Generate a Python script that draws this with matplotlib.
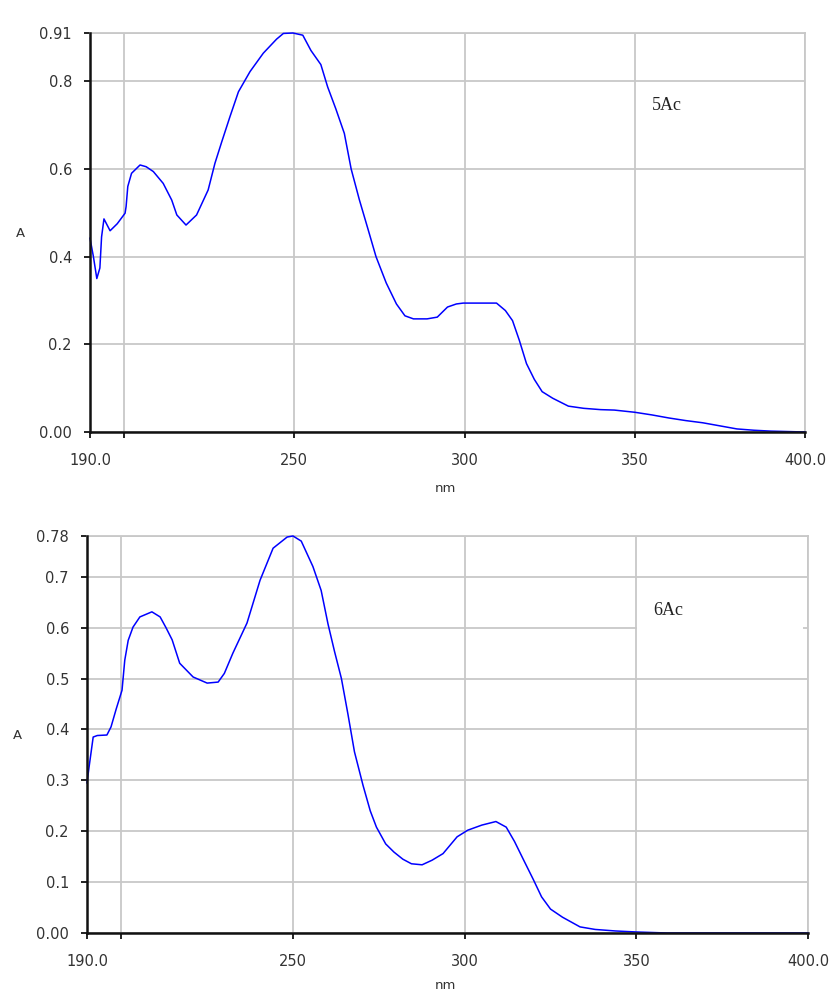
import matplotlib
matplotlib.use("Agg")
import matplotlib.pyplot as plt
from matplotlib.patches import Rectangle

# ---- data: 5Ac (top panel) ----
x5 = [190, 191, 192, 192.9, 193.4, 194.1, 195.9, 198, 200.3, 200.6, 201.1, 202.2, 204.7, 206.5,
      208.6, 211.5, 214, 215.5, 218.2, 221.3, 224.7, 226.7, 228.7, 231.1, 233.6, 237, 240.9,
      244.8, 246.8, 249.6, 252.5, 254.9, 257.8, 259.8, 262.2, 264.7, 266.7, 269.1, 271.6, 274,
      277, 280, 282.5, 285, 289, 292, 295, 297.6, 299.6, 305, 309.4, 312, 314.1, 316.1, 318.2,
      320.5, 322.8, 325.9, 330.5, 335, 340, 344, 350, 355, 360, 365, 370, 375, 380, 385, 390,
      395, 400]
a5 = [0.442, 0.40, 0.35, 0.374, 0.445, 0.486, 0.459, 0.475, 0.499, 0.514, 0.56, 0.59, 0.609,
      0.605, 0.594, 0.567, 0.529, 0.495, 0.472, 0.495, 0.552, 0.613, 0.662, 0.719, 0.776, 0.822,
      0.864, 0.896, 0.909, 0.91, 0.905, 0.87, 0.838, 0.787, 0.737, 0.681, 0.60, 0.53, 0.464,
      0.40, 0.34, 0.292, 0.265, 0.258, 0.258, 0.262, 0.285, 0.292, 0.294, 0.294, 0.294, 0.277,
      0.254, 0.209, 0.156, 0.12, 0.092, 0.077, 0.059, 0.054, 0.051, 0.05, 0.045, 0.039, 0.032,
      0.026, 0.021, 0.014, 0.007, 0.004, 0.002, 0.001, 0.0]

# ---- data: 6Ac (bottom panel) ----
x6 = [190, 190.6, 191.8, 193, 195.8, 197, 198.5, 200.2, 201, 202, 203.4, 205.4, 208.9, 211.3,
      213, 214.8, 217, 220.9, 225, 228.2, 230, 232.5, 236.6, 240.4, 244.2, 248.3, 250, 252.4,
      255.8, 258.2, 260.2, 262.1, 264.1, 266, 267.9, 270.4, 272.5, 274.3, 277, 279.4, 282,
      284.5, 287.6, 290.5, 293.7, 297.8, 300.9, 305, 309.1, 312.1, 314.5, 317.2, 320, 322.4,
      325, 328.5, 333.6, 338, 343.9, 350, 359, 370, 380, 390, 400]
a6 = [0.295, 0.326, 0.385, 0.388, 0.389, 0.405, 0.44, 0.477, 0.536, 0.575, 0.601, 0.621, 0.631,
      0.621, 0.60, 0.576, 0.53, 0.503, 0.491, 0.493, 0.51, 0.55, 0.609, 0.693, 0.756, 0.778,
      0.78, 0.77, 0.72, 0.673, 0.607, 0.553, 0.5, 0.43, 0.356, 0.29, 0.24, 0.208, 0.175,
      0.159, 0.145, 0.136, 0.134, 0.143, 0.156, 0.189, 0.202, 0.212, 0.219, 0.208, 0.18,
      0.143, 0.105, 0.071, 0.047, 0.031, 0.012, 0.007, 0.004, 0.002, 0.0, 0.0, 0.0, 0.0, 0.0]

xticks = [190, 200, 250, 300, 350, 400]
xticklabels = ["190.0", "", "250", "300", "350", "400.0"]
yticks5 = [0.0, 0.2, 0.4, 0.6, 0.8, 0.91]
yticklabels5 = ["0.00", "0.2", "0.4", "0.6", "0.8", "0.91"]
yticks6 = [0.0, 0.1, 0.2, 0.3, 0.4, 0.5, 0.6, 0.7, 0.78]
yticklabels6 = ["0.00", "0.1", "0.2", "0.3", "0.4", "0.5", "0.6", "0.7", "0.78"]
labels = ["5Ac", "6Ac"]

W, H = 833, 994
fig = plt.figure(figsize=(W / 100, H / 100), dpi=100)
fig.patch.set_facecolor("white")

GRID = "#c8c8c8"
TXT = "#333333"


def make_panel(rect, x, a, yticks, yticklabels, ymax, label, box, text_pos, nm_y):
    ax = fig.add_axes(rect)
    ax.set_xlim(190, 400)
    ax.set_ylim(0, ymax)
    ax.set_xticks(xticks)
    ax.set_xticklabels(xticklabels)
    ax.set_yticks(yticks)
    ax.set_yticklabels(yticklabels)
    ax.grid(True, color=GRID, lw=1.3, zorder=0)
    ax.set_axisbelow(True)
    for s in ["top", "right"]:
        ax.spines[s].set_color(GRID)
        ax.spines[s].set_linewidth(1.3)
    for s in ["left", "bottom"]:
        ax.spines[s].set_color("#111111")
        ax.spines[s].set_linewidth(1.8)
        ax.spines[s].set_zorder(4)
    ax.tick_params(axis="both", direction="out", length=4, width=1.3, color="#111111",
                   labelsize=10.5, labelcolor=TXT)
    ax.tick_params(axis="y", pad=9)
    ax.tick_params(axis="x", pad=11)
    for t in ax.get_xticklabels() + ax.get_yticklabels():
        t.set_family("DejaVu Sans")
    # white box around the sample label
    ax.add_patch(Rectangle((box[0], box[1]), box[2] - box[0], box[3] - box[1],
                           facecolor="white", edgecolor="none", zorder=1))
    ax.plot(x, a, color="#0000ff", lw=1.1, zorder=3, clip_on=False)
    ax.text(text_pos[0], text_pos[1], label, family="Liberation Serif", fontsize=13,
            color="#222222", ha="left", va="center", zorder=5)
    ax.set_ylabel("A", rotation=0, fontsize=9.5, color=TXT, family="DejaVu Sans")
    ax.yaxis.set_label_coords(-0.097, 0.48)
    ax.set_xlabel("nm", fontsize=9.5, color=TXT, family="DejaVu Sans")
    ax.xaxis.set_label_coords(0.497, nm_y)
    return ax


make_panel([90 / W, 1 - 432 / H, 715 / W, 399 / H], x5, a5, yticks5, yticklabels5, 0.91,
           labels[0], (350.3, 0.603, 398.4, 0.797), (355, 0.745), -0.125)
make_panel([87 / W, 1 - 933 / H, 721 / W, 397 / H], x6, a6, yticks6, yticklabels6, 0.78,
           labels[1], (350.3, 0.503, 398.4, 0.697), (355, 0.633), -0.115)

fig.savefig("out.png", dpi=100, facecolor="white")
